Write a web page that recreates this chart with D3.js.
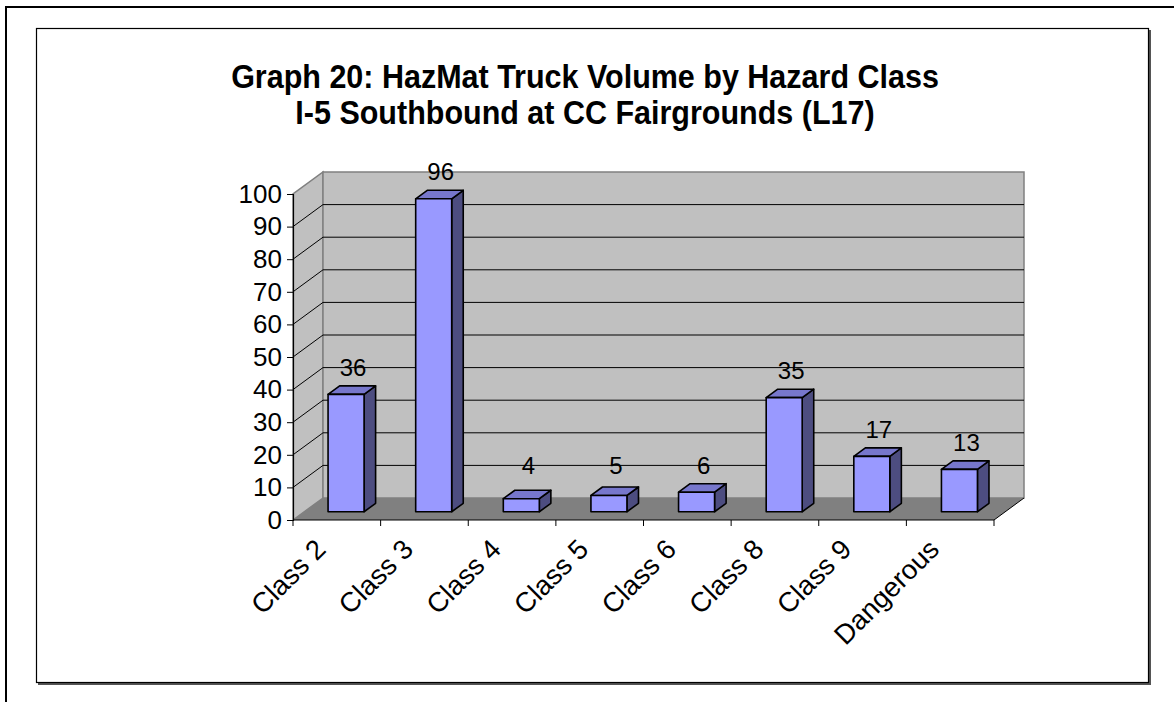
<!DOCTYPE html>
<html>
<head>
<meta charset="utf-8">
<script src="https://cdn.jsdelivr.net/npm/d3@7"></script>
<style>
  html, body { margin: 0; padding: 0; background: #fff; }
  svg { display: block; }
  text { font-family: "Liberation Sans", Arial, sans-serif; }
</style>
</head>
<body>
<svg id="chart" width="1174" height="702"></svg>
<script>
const categories = ["Class 2", "Class 3", "Class 4", "Class 5", "Class 6", "Class 8", "Class 9", "Dangerous"];
const values = [36, 96, 4, 5, 6, 35, 17, 13];
const yTicks = [0, 10, 20, 30, 40, 50, 60, 70, 80, 90, 100];
const titleLines = ["Graph 20: HazMat Truck Volume by Hazard Class", "I-5 Southbound at CC Fairgrounds (L17)"];

const svg = d3.select("#chart");
const W = 1174, H = 702;

// frames
svg.append("rect").attr("x", 6).attr("y", 7).attr("width", W + 10).attr("height", H + 10)
  .attr("fill", "none").attr("stroke", "#000").attr("stroke-width", 2);
svg.append("rect").attr("x", 38).attr("y", 30).attr("width", 1113).attr("height", 655)
  .attr("fill", "#555").attr("stroke", "none");
svg.append("rect").attr("x", 36.5).attr("y", 28.5).attr("width", 1112).attr("height", 654)
  .attr("fill", "#fff").attr("stroke", "#000").attr("stroke-width", 1.2);

// title
svg.append("g").selectAll("text").data(titleLines).join("text")
  .attr("transform", (d, i) => `translate(585,${88 + i * 36}) scale(1,1.08)`)
  .attr("text-anchor", "middle").attr("font-size", 30.5).attr("font-weight", "bold")
  .attr("fill", "#000").text(d => d);

// scales
const x = d3.scaleBand().domain(categories).range([293, 994]);
const y = d3.scaleLinear().domain([0, 100]).range([520, 194]);
const DX = 30, DY = 22;
const x0 = x.range()[0], x1 = x.range()[1];

const wall = svg.append("g");
// left wall
wall.append("polygon")
  .attr("points", [[x0, y(0)], [x0 + DX, y(0) - DY], [x0 + DX, y(100) - DY], [x0, y(100)]].join(" "))
  .attr("fill", "#c0c0c0").attr("stroke", "#808080").attr("stroke-width", 1.5);
// back wall
wall.append("rect").attr("x", x0 + DX).attr("y", y(100) - DY)
  .attr("width", x1 - x0).attr("height", y(0) - y(100))
  .attr("fill", "#c0c0c0").attr("stroke", "#808080").attr("stroke-width", 1.5);
// gridlines
const grid = yTicks.filter(v => v > 0 && v < 100);
wall.selectAll("line.gb").data(grid).join("line").attr("class", "gb")
  .attr("x1", x0 + DX).attr("x2", x1 + DX)
  .attr("y1", d => y(d) - DY).attr("y2", d => y(d) - DY)
  .attr("stroke", "#000").attr("stroke-width", 1);
wall.selectAll("line.gl").data(grid).join("line").attr("class", "gl")
  .attr("x1", x0).attr("x2", x0 + DX)
  .attr("y1", d => y(d)).attr("y2", d => y(d) - DY)
  .attr("stroke", "#000").attr("stroke-width", 1);
// floor
wall.append("polygon")
  .attr("points", [[x0, y(0)], [x1, y(0)], [x1 + DX, y(0) - DY], [x0 + DX, y(0) - DY]].join(" "))
  .attr("fill", "#808080").attr("stroke", "none");
wall.append("line").attr("x1", x1).attr("y1", y(0)).attr("x2", x1 + DX).attr("y2", y(0) - DY)
  .attr("stroke", "#000").attr("stroke-width", 1);

// y axis
const yAxis = svg.append("g").attr("transform", `translate(${x0},0)`)
  .call(d3.axisLeft(y).tickValues(yTicks).tickSize(6).tickPadding(5).tickFormat(d3.format("d")));
yAxis.select(".domain").attr("stroke", "#000").attr("stroke-width", 1.2);
yAxis.selectAll(".tick line").attr("stroke", "#000");
yAxis.selectAll(".tick text").attr("font-size", 26).attr("font-family", "Liberation Sans, Arial, sans-serif").attr("fill", "#000");

// x axis
const xAxisG = svg.append("g");
xAxisG.append("line").attr("x1", x0).attr("x2", x1).attr("y1", y(0)).attr("y2", y(0))
  .attr("stroke", "#000").attr("stroke-width", 1.2);
const bounds = categories.map(c => x(c)).concat([x1]);
xAxisG.selectAll("line.t").data(bounds).join("line").attr("class", "t")
  .attr("x1", d => d).attr("x2", d => d).attr("y1", y(0)).attr("y2", y(0) + 6)
  .attr("stroke", "#000").attr("stroke-width", 1);
xAxisG.selectAll("text").data(categories).join("text")
  .attr("transform", d => `translate(${x(d) + x.bandwidth() / 2 - 9.5},551) rotate(-45)`)
  .attr("text-anchor", "end").attr("font-size", 27.5).attr("fill", "#000").text(d => d);

// bars
const BW = 36, F0 = 0.375, F1 = 0.76;
const bars = svg.append("g");
const data = categories.map((c, i) => ({ c, v: values[i] }));
data.forEach(d => {
  const bx0 = x(d.c) + x.bandwidth() / 2 - 2 - BW / 2;
  const bx1 = bx0 + BW;
  const yt0 = y(d.v) - F0 * DY, yt1 = y(d.v) - F1 * DY;
  const yb0 = y(0) - F0 * DY, yb1 = y(0) - F1 * DY;
  const a = F0 * DX, b = F1 * DX;
  const g = bars.append("g").attr("stroke", "#000").attr("stroke-width", 1.6).attr("stroke-linejoin", "round");
  g.append("polygon").attr("points", [[bx1 + a, yt0], [bx1 + b, yt1], [bx1 + b, yb1], [bx1 + a, yb0]].join(" "))
    .attr("fill", "#4d4d80");
  g.append("polygon").attr("points", [[bx0 + a, yt0], [bx1 + a, yt0], [bx1 + b, yt1], [bx0 + b, yt1]].join(" "))
    .attr("fill", "#7777cc");
  g.append("rect").attr("x", bx0 + a).attr("y", yt0).attr("width", BW).attr("height", yb0 - yt0)
    .attr("fill", "#9999ff");
  bars.append("text")
    .attr("x", bx0 + a + BW / 2 + 7)
    .attr("y", Math.min(yt1 - 10, y(0) - DY - 24))
    .attr("text-anchor", "middle").attr("font-size", 24).attr("fill", "#000")
    .text(d.v);
});
</script>
</body>
</html>
